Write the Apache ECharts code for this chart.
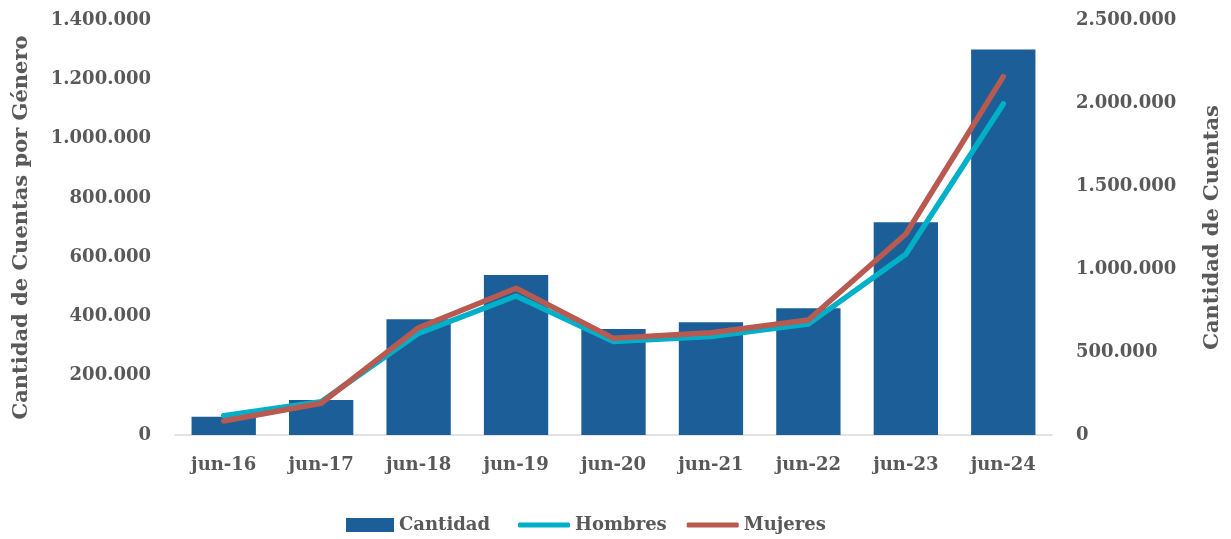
<!DOCTYPE html>
<html>
<head>
<meta charset="utf-8">
<script src="https://cdn.jsdelivr.net/npm/echarts@6/dist/echarts.min.js"></script>
<style>
  html, body { margin: 0; padding: 0; background: #fff; }
  #chart { width: 1231px; height: 539px; }
</style>
</head>
<body>
<div id="chart"></div>
<script>
// periods on the x axis
let periodos = ["jun-16", "jun-17", "jun-18", "jun-19", "jun-20", "jun-21", "jun-22", "jun-23", "jun-24"];
// total accounts (right axis)
let cantidad = [110000, 211000, 697000, 964000, 639000, 679000, 763000, 1281000, 2323000];
// accounts by gender (left axis)
let hombres = [65000, 112000, 343000, 469000, 315000, 332000, 374000, 610000, 1117000];
let mujeres = [47000, 107000, 362000, 495000, 326000, 345000, 388000, 678000, 1209000];

let gris = "#595959";
let fuente = "DejaVu Serif";

function miles(v) {
  return String(v).replace(/\B(?=(\d{3})+(?!\d))/g, ".");
}

var myChart = echarts.init(document.getElementById("chart"));

let textoLeyenda = { fontFamily: fuente, color: gris, fontWeight: "bold", fontSize: 18 };

var option = {
  animation: false,
  textStyle: { fontFamily: fuente, color: gris, fontWeight: "bold" },
  grid: { left: 175, right: 172, top: 20, bottom: 104, containLabel: false },
  legend: [
    {
      bottom: 0,
      left: 341,
      itemWidth: 48,
      itemHeight: 14,
      icon: "rect",
      textStyle: textoLeyenda,
      data: ["Cantidad"],
    },
    {
      bottom: 0,
      left: 513,
      itemGap: 20,
      itemWidth: 52,
      itemHeight: 5,
      icon: "roundRect",
      textStyle: textoLeyenda,
      data: ["Hombres", "Mujeres"],
    },
  ],
  xAxis: {
    type: "category",
    data: periodos,
    axisTick: { show: false },
    axisLine: { lineStyle: { color: "#d9d9d9", width: 1.5 } },
    axisLabel: { color: gris, fontFamily: fuente, fontWeight: "bold", fontSize: 18, margin: 21 },
  },
  yAxis: [
    {
      type: "value",
      min: 0,
      max: 1400000,
      interval: 200000,
      name: "Cantidad de Cuentas por Género",
      nameLocation: "middle",
      nameRotate: 90,
      nameGap: 143,
      nameTextStyle: { color: gris, fontFamily: fuente, fontWeight: "bold", fontSize: 21 },
      splitLine: { show: false },
      axisLine: { show: false },
      axisLabel: { color: gris, fontFamily: fuente, fontWeight: "bold", fontSize: 18, margin: 24, formatter: miles },
    },
    {
      type: "value",
      min: 0,
      max: 2500000,
      interval: 500000,
      name: "Cantidad de Cuentas",
      nameLocation: "middle",
      nameRotate: 90,
      nameGap: 150,
      nameTextStyle: { color: gris, fontFamily: fuente, fontWeight: "bold", fontSize: 21 },
      splitLine: { show: false },
      axisLine: { show: false },
      axisLabel: { color: gris, fontFamily: fuente, fontWeight: "bold", fontSize: 18, margin: 24, formatter: miles },
    },
  ],
  series: [
    {
      name: "Cantidad",
      type: "bar",
      yAxisIndex: 1,
      barWidth: "66%",
      itemStyle: { color: "#1b5e98" },
      data: cantidad,
    },
    {
      name: "Hombres",
      type: "line",
      yAxisIndex: 0,
      symbol: "none",
      lineStyle: { color: "#00b0c8", width: 5.5, cap: "round", join: "round" },
      itemStyle: { color: "#00b0c8" },
      data: hombres,
    },
    {
      name: "Mujeres",
      type: "line",
      yAxisIndex: 0,
      symbol: "none",
      lineStyle: { color: "#b85a50", width: 5.5, cap: "round", join: "round" },
      itemStyle: { color: "#b85a50" },
      data: mujeres,
    },
  ],
};

option && myChart.setOption(option);
</script>
</body>
</html>
